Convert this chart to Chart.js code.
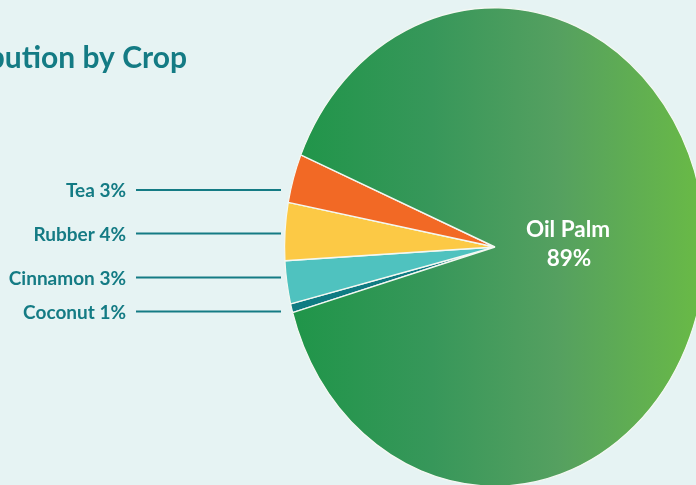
<!DOCTYPE html>
<html>
<head>
<meta charset="utf-8">
<script src="https://cdn.jsdelivr.net/npm/chart.js@4.4.1/dist/chart.umd.min.js"></script>
<style>
  html, body { margin: 0; padding: 0; background: #e6f3f3; overflow: hidden; }
  #wrap { width: 720px; height: 485px; }
</style>
</head>
<body>
<div id="wrap"><canvas id="cropChart" width="720" height="485"></canvas></div>
<script>
// crop share data (clockwise from the bottom-left)
const crops = ['Coconut', 'Cinnamon', 'Rubber', 'Tea', 'Oil Palm'];
const shares = [0.6, 2.9, 3.9, 3.3, 89.3];
const shareLabels = ['1%', '3%', '4%', '3%', '89%'];
const sliceColors = ['#0f7b82', '#4fc2bf', '#fcc945', '#f26925', null];

const titleText = 'Distribution by Crop';
const TEAL = '#147b84';
const FONT = 'Lato, "Open Sans", sans-serif';

// pie is drawn a bit taller than wide
const STRETCH_Y = 1.137;

// y positions of the callout labels on the left
const calloutY = { 'Tea': 190, 'Rubber': 233.5, 'Cinnamon': 277.5, 'Coconut': 311.5 };

function palmGradient(context) {
    const chart = context.chart;
    const area = chart.chartArea;
    if (!area) return '#3f9b57';
    const g = chart.ctx.createLinearGradient(area.left, 0, area.right, 0);
    g.addColorStop(0, '#1e9548');
    g.addColorStop(0.35, '#37975a');
    g.addColorStop(0.65, '#55a060');
    g.addColorStop(1, '#6abb45');
    return g;
}

const stretchPlugin = {
    id: 'stretch',
    beforeDatasetsDraw(chart) {
        const a = chart.chartArea;
        const cx = (a.left + a.right) / 2;
        const cy = (a.top + a.bottom) / 2;
        const ctx = chart.ctx;
        ctx.save();
        ctx.translate(cx, cy);
        ctx.scale(1, STRETCH_Y);
        ctx.translate(-cx, -cy);
    },
    afterDatasetsDraw(chart) {
        chart.ctx.restore();
    }
};

const labelPlugin = {
    id: 'cropLabels',
    afterDraw(chart) {
        const ctx = chart.ctx;
        ctx.save();

        // title (runs off the left edge)
        ctx.fillStyle = TEAL;
        ctx.font = 'bold 30px ' + FONT;
        ctx.textAlign = 'right';
        ctx.textBaseline = 'middle';
        ctx.fillText(titleText, 187, 58);

        // callouts
        ctx.font = 'bold 19px ' + FONT;
        ctx.strokeStyle = TEAL;
        ctx.lineWidth = 2;
        crops.forEach((name, i) => {
            if (!(name in calloutY)) return;
            const y = calloutY[name];
            ctx.fillText(name + ' ' + shareLabels[i], 126, y + 1);
            ctx.beginPath();
            ctx.moveTo(136, y);
            ctx.lineTo(281, y);
            ctx.stroke();
        });

        // big slice label
        const big = crops.length - 1;
        ctx.fillStyle = '#ffffff';
        ctx.font = 'bold 22.5px ' + FONT;
        ctx.textAlign = 'center';
        ctx.fillText(crops[big], 568, 230);
        ctx.fillText(shareLabels[big], 569, 259);
        ctx.restore();
    }
};

new Chart(document.getElementById('cropChart'), {
    type: 'pie',
    data: {
        labels: crops,
        datasets: [{
            data: shares,
            backgroundColor: (c) => sliceColors[c.dataIndex] || palmGradient(c),
            borderColor: '#f4f8f2',
            borderWidth: 1.2,
            hoverOffset: 0
        }]
    },
    options: {
        responsive: false,
        animation: false,
        rotation: 254.1,
        layout: { padding: { left: 284, right: 14, top: 36, bottom: 27 } },
        plugins: {
            legend: { display: false },
            tooltip: { enabled: false }
        }
    },
    plugins: [stretchPlugin, labelPlugin]
});
</script>
</body>
</html>
